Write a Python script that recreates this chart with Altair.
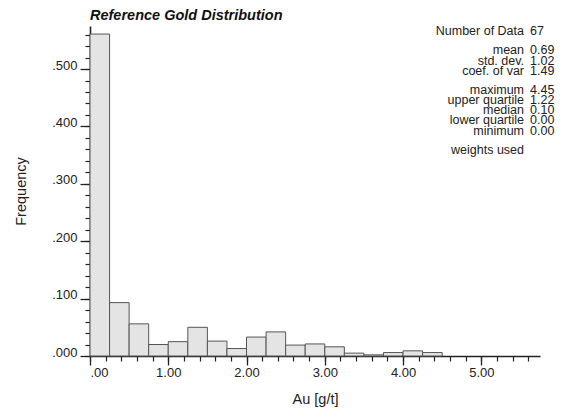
import altair as alt
import pandas as pd

# ---- data ----
bin_start = [0.00, 0.25, 0.50, 0.75, 1.00, 1.25, 1.50, 1.75, 2.00, 2.25,
             2.50, 2.75, 3.00, 3.25, 3.50, 3.75, 4.00, 4.25]
bin_width = 0.25
frequency = [0.561, 0.093, 0.056, 0.020, 0.025, 0.050, 0.026, 0.013, 0.033, 0.042,
             0.019, 0.021, 0.016, 0.005, 0.002, 0.006, 0.009, 0.006]

stat_labels = ["Number of Data", "mean", "std. dev.", "coef. of var", "maximum",
               "upper quartile", "median", "lower quartile", "minimum", "weights used"]
stat_values = ["67", "0.69", "1.02", "1.49", "4.45", "1.22", "0.10", "0.00", "0.00", ""]
stat_rows = [0.0, 1.85, 2.85, 3.85, 5.65, 6.65, 7.6, 8.6, 9.6, 11.45]  # line index (layout)

x_major = [0, 1, 2, 3, 4, 5]
x_minor = [round(i * 0.2, 2) for i in range(29)]
y_major = [0.0, 0.1, 0.2, 0.3, 0.4, 0.5]
y_minor = [round(i * 0.02, 2) for i in range(29)]

FONT = "Liberation Sans"
X_DOMAIN = [0, 5.75]
Y_DOMAIN = [0, 0.575]

bars_df = pd.DataFrame({
    "start": bin_start,
    "end": [s + bin_width for s in bin_start],
    "freq": frequency,
})

xs = alt.Scale(domain=X_DOMAIN, nice=False, zero=False, padding=0)
ys = alt.Scale(domain=Y_DOMAIN, nice=False, padding=0)

bars = alt.Chart(bars_df).mark_rect(
    fill="#e4e4e4", stroke="#555555", strokeWidth=1
).encode(
    x=alt.X("start:Q", scale=xs, axis=alt.Axis(
        values=x_major, title="Au [g/t]", orient="bottom",
        labelExpr="datum.value == 0 ? '.00' : format(datum.value, '.2f')",
        tickSize=9, labelPadding=1, grid=False,
        labelFont=FONT, labelFontSize=13, labelColor="#222",
        titleFont=FONT, titleFontSize=14.5, titleFontWeight="normal", titleColor="#222",
        titlePadding=13,
        domainColor="#222", domainWidth=1.6, tickColor="#222", tickWidth=1.3)),
    x2="end:Q",
    y=alt.Y("freq:Q", scale=ys, axis=alt.Axis(
        values=y_major, title="Frequency", orient="left",
        labelExpr="slice(format(datum.value, '.3f'), 1)",
        tickSize=10, labelPadding=3, labelBaseline="alphabetic", grid=False,
        labelFont=FONT, labelFontSize=13, labelColor="#222",
        titleFont=FONT, titleFontSize=14.5, titleFontWeight="normal", titleColor="#222",
        titlePadding=23,
        domainColor="#222", domainWidth=1.6, tickColor="#222", tickWidth=1.3)),
    y2=alt.datum(0),
)

minor = alt.Chart(bars_df).mark_rect(opacity=0).encode(
    x=alt.X("start:Q", scale=xs, axis=alt.Axis(
        values=x_minor, labels=False, title=None, orient="bottom", domain=False,
        tickSize=5, grid=False, tickColor="#222", tickWidth=1.2)),
    x2="end:Q",
    y=alt.Y("freq:Q", scale=ys, axis=alt.Axis(
        values=y_minor, labels=False, title=None, orient="left", domain=False,
        tickSize=5, grid=False, tickColor="#222", tickWidth=1.2)),
    y2=alt.datum(0),
)

stats_df = pd.DataFrame({
    "label": stat_labels,
    "value": stat_values,
    "row": stat_rows,
})
LINE = 10.4
TOP = 5
stats_df["ypx"] = [TOP + r * LINE for r in stat_rows]

stat_lab = alt.Chart(stats_df).mark_text(
    align="right", baseline="middle", font=FONT, fontSize=12.5, color="#222"
).encode(
    x=alt.value(434),
    y=alt.Y("ypx:Q", scale=None, axis=None),
    text="label:N",
)
stat_val = alt.Chart(stats_df).mark_text(
    align="left", baseline="middle", font=FONT, fontSize=12.5, color="#222"
).encode(
    x=alt.value(440),
    y=alt.Y("ypx:Q", scale=None, axis=None),
    text="value:N",
)

hist = alt.layer(minor, bars).resolve_axis(x="independent", y="independent")

chart = alt.layer(hist, stat_lab, stat_val).properties(
    width=450,
    height=330,
    padding={"left": 90, "top": 26, "right": 21, "bottom": 59},
    autosize=alt.AutoSizeParams(type="none"),
    view=alt.ViewBackground(stroke="transparent", strokeWidth=0),
    title=alt.TitleParams(
        "Reference Gold Distribution", anchor="start", frame="group", font=FONT,
        fontSize=14.5, fontWeight="bold", fontStyle="italic", color="#111", offset=2),
).configure_view(stroke="transparent", strokeWidth=0).configure_axis(
    grid=False
).configure(background="white")

chart.save("out.html", embed_options={"renderer": "svg", "actions": False})
